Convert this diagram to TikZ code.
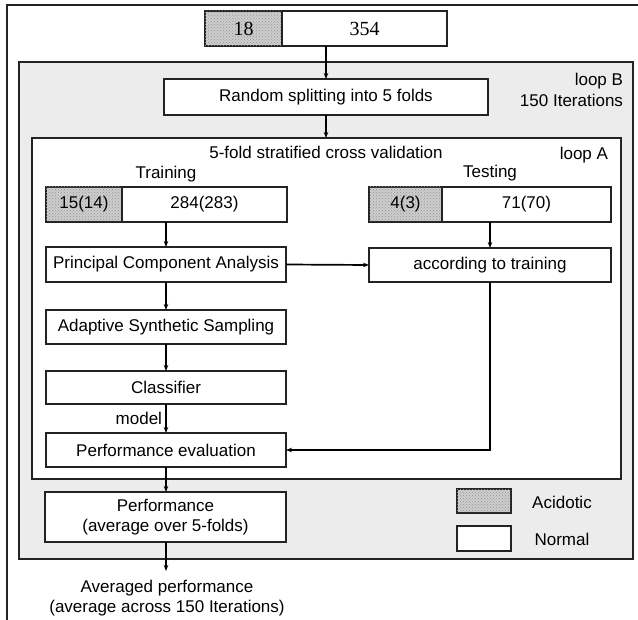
\documentclass[tikz,border=0pt]{standalone}
\usepackage{fontspec}
\setmainfont{Liberation Sans}
\newfontfamily\numserif{Liberation Serif}
\usetikzlibrary{arrows.meta,patterns}
\definecolor{loopgray}{RGB}{236,236,236}
\definecolor{acidfill}{RGB}{205,205,205}
\definecolor{aciddots}{RGB}{150,150,150}
\definecolor{edge}{RGB}{35,35,35}
\begin{document}
\begin{tikzpicture}[x=1pt,y=-1pt,
  every node/.style={font=\fontsize{17}{20}\selectfont, inner sep=0pt, outer sep=0pt},
  box/.style={draw=edge, line width=1.2pt, fill=white, minimum height=#1, anchor=north west},
  box/.default=35,
  acid/.style={box=#1, fill=acidfill, postaction={pattern=crosshatch dots, pattern color=aciddots}},
  acid/.default=35,
  conn/.style={draw=black, line width=1.7pt, -{Stealth[length=6pt,width=4.5pt]}},
  frame/.style={draw=edge, line width=1.4pt}]
\useasboundingbox (0,0) rectangle (638,620);
% outer frame (clipped at right and bottom)
\draw[frame] (7,622) -- (7,5) -- (640,5);
% loop B region
\node[frame, fill=loopgray, minimum width=614, minimum height=497, anchor=north west] (loopB) at (19,62) {};
% loop A region
\node[frame, fill=white, minimum width=589, minimum height=341, anchor=north west] (loopA) at (32,138) {};

% top box
\node[acid, minimum width=77, font=\numserif\fontsize{20}{22}\selectfont] (top18) at (205,11) {18};
\node[box, minimum width=165, font=\numserif\fontsize{20}{22}\selectfont] (top354) at (282,11) {354};

% random splitting
\node[box=36, minimum width=324] (random) at (164,79) {Random splitting into 5 folds};
\node[align=right, anchor=north east, font=\fontsize{17}{21}\selectfont] (loopBlabel) at (623,73) {loop B\\150 Iterations};

% loop A labels
\node (cvlabel) at (326,152) {5-fold stratified cross validation};
\node[anchor=east] (loopAlabel) at (608,155) {loop A};
\node (traininglabel) at (166,174) {Training};
\node (testinglabel) at (490,173) {Testing};

% training data
\node[acid, minimum width=76] (trainacid) at (46,187) {15(14)};
\node[box, minimum width=165] (trainnorm) at (122,187) {284(283)};
% testing data
\node[acid, minimum width=73] (testacid) at (369,187) {4(3)};
\node[box, minimum width=169] (testnorm) at (442,187) {71(70)};

% process boxes
\node[box, minimum width=240] (pca) at (46,247) {Principal Component Analysis};
\node[box=34, minimum width=242] (according) at (369,248) {according to training};
\node[box=34, minimum width=240] (ada) at (46,310) {Adaptive Synthetic Sampling};
\node[box=33, minimum width=240] (classifier) at (46,371) {Classifier};
\node[box=34, minimum width=240] (perfeval) at (46,433) {Performance evaluation};
\node[box=50, minimum width=241, align=center] (performance) at (45,492) {Performance\\(average over 5-folds)};
\node[align=center, anchor=north, font=\fontsize{17}{20}\selectfont] (averaged) at (167,580) {Averaged performance\\(average across 150 Iterations)};

% legend
\node[acid=24, minimum width=54] (legacid) at (457,489) {};
\node[box=25, minimum width=54] (legnorm) at (457,526) {};
\node (legacidtext) at (562,502) {Acidotic};
\node (legnormtext) at (562,539) {Normal};

% connectors
\draw[conn] (random.north |- top354.south) -- (random.north);
\draw[conn] (random.south) -- (random.south |- loopA.north);
\draw[conn] (pca.north |- trainnorm.south) -- (pca.north);
\draw[conn] (according.north |- testnorm.south) -- (according.north);
\draw[conn] (pca.east) -- (according.west);
\draw[conn] (pca.south) -- (ada.north);
\draw[conn] (ada.south) -- (classifier.north);
\draw[conn] (classifier.south) -- node[anchor=east, xshift=-4pt] (modellabel) {model} (perfeval.north);
\draw[conn] (according.south) |- (perfeval.east);
\draw[conn] (perfeval.south) -- (perfeval.south |- performance.north);
\coordinate (avgtop) at (166,571);
\draw[conn] (performance.south -| avgtop) -- (avgtop);
\end{tikzpicture}
\end{document}
